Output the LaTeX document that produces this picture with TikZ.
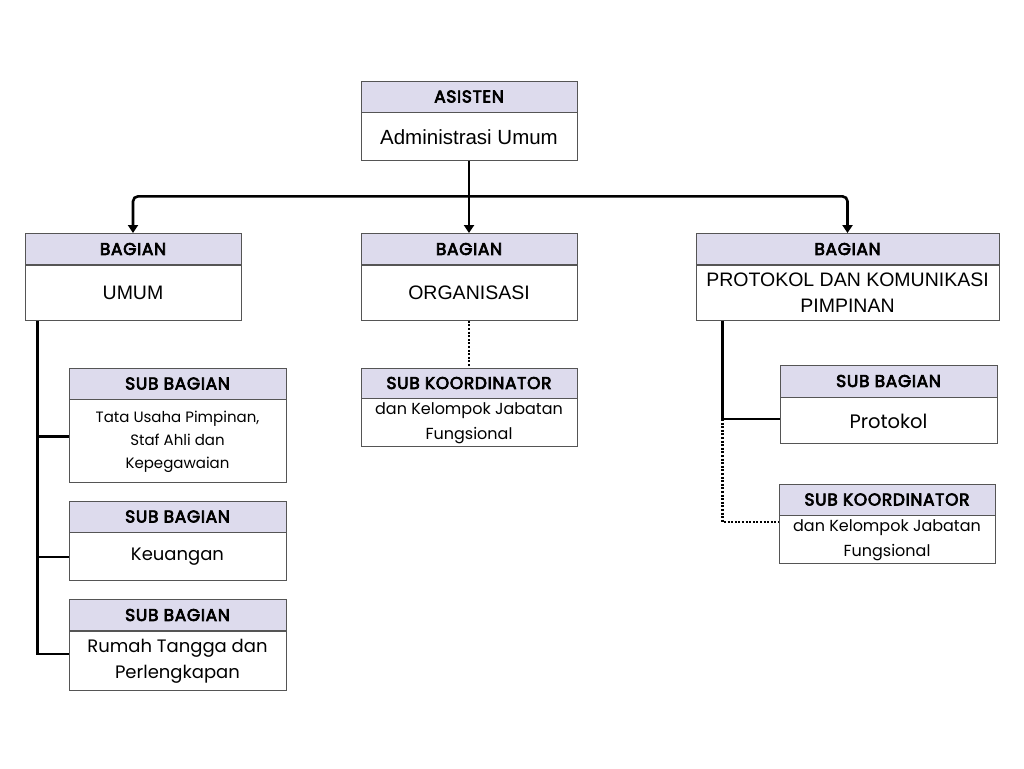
\documentclass[tikz,border=0pt]{standalone}
\usepackage{fontspec}
\setmainfont{Liberation Sans}
\newfontfamily\popfont{Poppins}
\newfontfamily\popbold{Poppins}[FakeBold=4,LetterSpace=4]
\usepackage{tikz}
\usetikzlibrary{arrows.meta,positioning}
\definecolor{hdfill}{RGB}{221,219,237}
\definecolor{boxline}{RGB}{85,85,85}

\begin{document}
\begin{tikzpicture}[x=1pt,y=-1pt,
  hd/.style={draw=boxline, fill=hdfill, line width=0.9pt, minimum height=31pt,
    inner sep=0pt, font=\popbold\fontsize{17}{18}\selectfont},
  bd/.style={draw=boxline, fill=white, line width=0.9pt, inner sep=0pt,
    align=center, font=\fontsize{19.5}{26}\selectfont},
  sbd/.style={bd, font=\popfont\fontsize{15}{26}\selectfont},
  ln/.style={line width=2.6pt},
  dt/.style={line width=2.2pt, dash pattern=on 2pt off 1.6pt},
  a/.style={ln, -{Triangle[length=8pt,width=10pt]}}]
\useasboundingbox (0,0) rectangle (1024,768);
% top
\node[hd, minimum width=216pt] (asisten) at (469,96.5) {ASISTEN};
\node[bd, minimum width=216pt, minimum height=48pt, below=0pt of asisten, font=\fontsize{20.5}{26}\selectfont] (asistenB) {Administrasi Umum};
% bagian
\node[hd, minimum width=216pt] (umum) at (133,249) {BAGIAN};
\node[bd, minimum width=216pt, minimum height=55pt, below=0pt of umum] (umumB) {UMUM};
\node[hd, minimum width=216pt] (org) at (469,249) {BAGIAN};
\node[bd, minimum width=216pt, minimum height=55pt, below=0pt of org] (orgB) {ORGANISASI};
\node[hd, minimum width=303pt] (prot) at (847.5,249) {BAGIAN};
\node[bd, minimum width=303pt, minimum height=55pt, below=0pt of prot] (protB) {PROTOKOL DAN KOMUNIKASI\\PIMPINAN};
% sub bagian umum
\node[hd, minimum width=217pt] (tu) at (177.5,383.5) {SUB BAGIAN};
\node[sbd, minimum width=217pt, minimum height=83pt, below=0pt of tu, font=\popfont\fontsize{15}{23}\selectfont] (tuB) {Tata Usaha Pimpinan,\\Staf Ahli dan\\Kepegawaian};
\node[hd, minimum width=217pt] (keu) at (177.5,516.5) {SUB BAGIAN};
\node[sbd, minimum width=217pt, minimum height=48pt, below=0pt of keu, font=\popfont\fontsize{18}{26}\selectfont] (keuB) {Keuangan};
\node[hd, minimum width=217pt] (rt) at (177.5,615) {SUB BAGIAN};
\node[sbd, minimum width=217pt, minimum height=59pt, below=0pt of rt, font=\popfont\fontsize{18}{26}\selectfont] (rtB) {Rumah Tangga dan\\Perlengkapan};
% sub koordinator organisasi
\node[hd, minimum width=216pt, minimum height=30pt] (kor) at (469,383) {SUB KOORDINATOR};
\node[sbd, minimum width=216pt, minimum height=48pt, below=0pt of kor, font=\popfont\fontsize{16}{25}\selectfont] (korB) {dan Kelompok Jabatan\\Fungsional};
% sub protokol
\node[hd, minimum width=217pt, minimum height=32pt] (sp) at (888.5,381) {SUB BAGIAN};
\node[sbd, minimum width=217pt, minimum height=46pt, below=0pt of sp, font=\popfont\fontsize{19.5}{26}\selectfont] (spB) {Protokol};
\node[hd, minimum width=216pt] (sk) at (887,499.5) {SUB KOORDINATOR};
\node[sbd, minimum width=216pt, minimum height=48pt, below=0pt of sk, font=\popfont\fontsize{16}{25}\selectfont] (skB) {dan Kelompok Jabatan\\Fungsional};
% connectors
\draw[ln] (asistenB.south) -- ++(0,35) coordinate (bar);
\draw[a, rounded corners=5pt] (bar) -| (umum.north);
\draw[a, rounded corners=5pt] (bar) -| (prot.north);
\draw[a] (bar) -- (org.north);
\draw[dt] (orgB.south) -- (kor.north);
\coordinate (trL) at ([xshift=13pt]umumB.south west);
\draw[ln] (trL) |- ([yshift=7pt]rtB.west);
\draw[ln] ([yshift=5pt]tuB.west -| trL) -- ([yshift=5pt]tuB.west);
\draw[ln] (keuB.west -| trL) -- (keuB.west);
\coordinate (trR) at ([xshift=27pt]protB.south west);
\draw[ln] (trR) |- ([yshift=2pt]spB.west);
\draw[dt] ([yshift=2pt]spB.west -| trR) |- ([yshift=18pt]skB.west);
\end{tikzpicture}
\end{document}
